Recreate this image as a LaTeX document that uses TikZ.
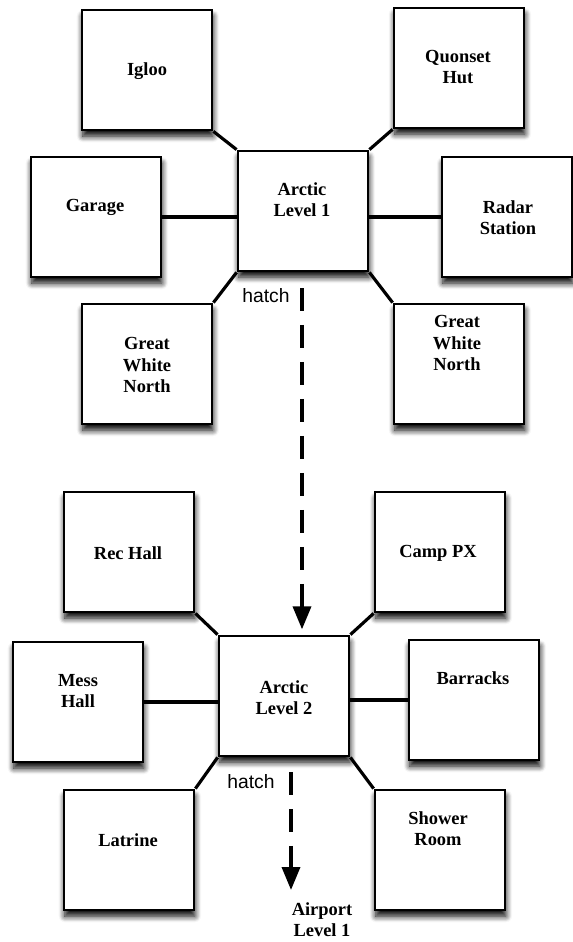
\documentclass[tikz,border=0pt]{standalone}
\usepackage{fontspec}
\setmainfont{Liberation Serif}
\setsansfont{Liberation Sans}
\usetikzlibrary{arrows.meta,shadows.blur}

\begin{document}
\begin{tikzpicture}[x=0.02cm, y=-0.02cm,
    room/.style={draw, line width=1.6pt, fill=white, inner sep=0pt,
      minimum width=2.6cm, minimum height=2.4cm,
      blur shadow={shadow xshift=0.5pt, shadow yshift=-3.5pt, shadow blur radius=3.5pt,
        shadow blur steps=8, shadow opacity=100}},
    word/.style={align=center, inner sep=0pt, font=\bfseries\fontsize{10.5}{12}\selectfont},
    sign/.style={inner sep=0pt, font=\sffamily\fontsize{11}{13}\selectfont},
    link/.style={line width=1.8pt},
    passage/.style={line width=2pt, dash pattern=on 0.46cm off 0.28cm,
      -{Triangle[width=0.36cm, length=0.46cm]}}]
  \useasboundingbox (0,0) rectangle (573,942);

  % Level 1 rooms
  \foreach \name/\x/\y in {igloo/147/70, quonset/459/68, garage/96/217, arctic1/303/211,
      radar/507/217, gwnleft/147/364, gwnright/459/364} {
    \node[room] (\name) at (\x,\y) {};
  }

  % Level 2 rooms
  \foreach \name/\x/\y in {rechall/129/552, camppx/440/552, messhall/78/702, arctic2/284/696,
      barracks/474/700, latrine/129/850, shower/440/850} {
    \node[room] (\name) at (\x,\y) {};
  }

  % Room names
  \foreach \name/\x/\y/\txt in {igloo/147/71/Igloo, quonset/458/67/{Quonset\\Hut},
      garage/95/207/Garage, arctic1/302/200/{Arctic\\Level 1}, radar/508/218/{Radar\\Station},
      gwnleft/147/365/{Great\\White\\North}, gwnright/457/343/{Great\\White\\North},
      rechall/128/553/Rec Hall, camppx/438/553/Camp PX, messhall/78/691/{Mess\\Hall},
      arctic2/284/698/{Arctic\\Level 2}, barracks/473/678/Barracks, latrine/128/840/Latrine,
      shower/438/829/{Shower\\Room}} {
    \node[word] (\name-txt) at (\x,\y) {\txt};
  }

  % Corridors on level 1
  \draw[link] (igloo.south east) -- (arctic1.north west);
  \draw[link] (quonset.south west) -- (arctic1.north east);
  \draw[link] (garage.east) -- (garage.east -| arctic1.west);
  \draw[link] (radar.west) -- (radar.west -| arctic1.east);
  \draw[link] (gwnleft.north east) -- (arctic1.south west);
  \draw[link] (gwnright.north west) -- (arctic1.south east);

  % Corridors on level 2
  \draw[link] (rechall.south east) -- (arctic2.north west);
  \draw[link] (camppx.south west) -- (arctic2.north east);
  \draw[link] (messhall.east) -- (messhall.east -| arctic2.west);
  \draw[link] (barracks.west) -- (barracks.west -| arctic2.east);
  \draw[link] (latrine.north east) -- (arctic2.south west);
  \draw[link] (shower.north west) -- (arctic2.south east);

  % Hatches
  \node[sign] (hatch1) at (266,296) {hatch};
  \node[sign] (hatch2) at (251,782) {hatch};
  \node[word] (airport) at (322,920) {Airport\\Level 1};
  \coordinate (drop1) at (302,288);
  \coordinate (drop2) at (291,772);
  \coordinate (airport-in) at (291,890);

  \draw[passage, shorten >=3pt] (drop1) -- (drop1 |- arctic2.north);
  \draw[passage] (drop2) -- (airport-in);
\end{tikzpicture}
\end{document}
